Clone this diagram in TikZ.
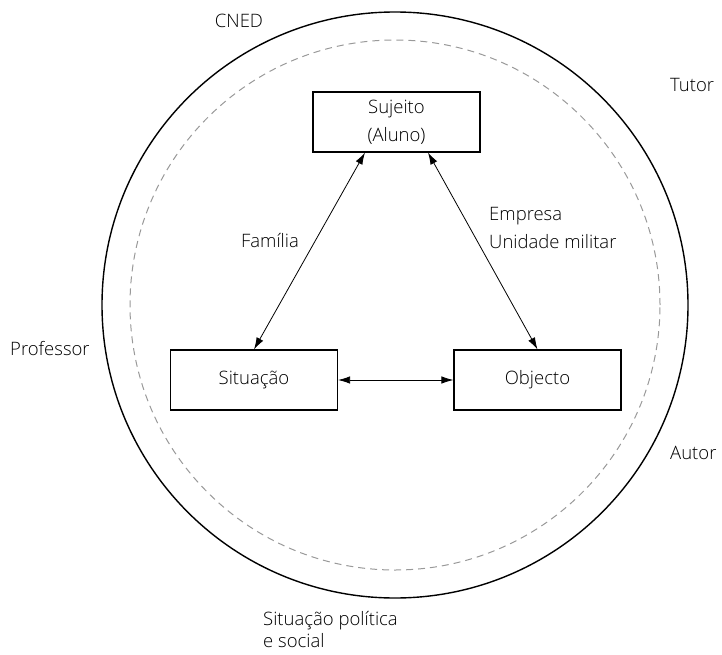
\documentclass[tikz,border=0pt]{standalone}
\usepackage{fontspec}
\setmainfont{Open Sans}[UprightFont=* Light]
\usetikzlibrary{arrows.meta}
\tikzset{
  box/.style={draw, line width=1.1pt, minimum width=167pt, minimum height=60pt, align=center, inner sep=0pt},
  link/.style={line width=0.8pt, {Latex[length=12pt,width=7.5pt]}-{Latex[length=12pt,width=7.5pt]}},
  lbl/.style={inner sep=0pt},
  txt/.style={font=\fontsize{18.5}{28}\selectfont}
}
\begin{document}
\begin{tikzpicture}[x=1pt,y=-1pt,txt]
\useasboundingbox (0,0) rectangle (722,655);
\coordinate (c) at (395,305);
% outer context circle and inner dashed boundary
\draw[line width=1.4pt] (c) circle[radius=293pt];
\draw[black!40, line width=1pt, dash pattern=on 7pt off 5pt] (c) circle[radius=265pt];

% the three poles
\node[box] (suj) at (396.5,122) {Sujeito\\(Aluno)};
\node[box] (sit) at (254,380) {Situação};
\node[box] (obj) at (537.5,380) {Objecto};

\draw[link] ([xshift=-31.5pt]suj.south) -- (sit.north);
\draw[link] ([xshift=31.5pt]suj.south) -- (obj.north);
\draw[link] (sit.east) -- (obj.west);

% labels on the relations
\node[lbl] (fam) at (270,241) {Família};
\node[lbl, align=left, anchor=west] (emp) at (489,228) {Empresa\\Unidade militar};

% actors around the circle
\node[lbl] (cned) at (239,21) {CNED};
\node[lbl, anchor=west] (tutor) at (670,85) {Tutor};
\node[lbl, anchor=west] (prof) at (10,349) {Professor};
\node[lbl, anchor=west] (autor) at (670,453) {Autor};
\node[lbl, align=left, anchor=north west, font=\fontsize{18.5}{22}\selectfont] (pol) at (263,611) {Situação política\\e social};
\end{tikzpicture}
\end{document}
